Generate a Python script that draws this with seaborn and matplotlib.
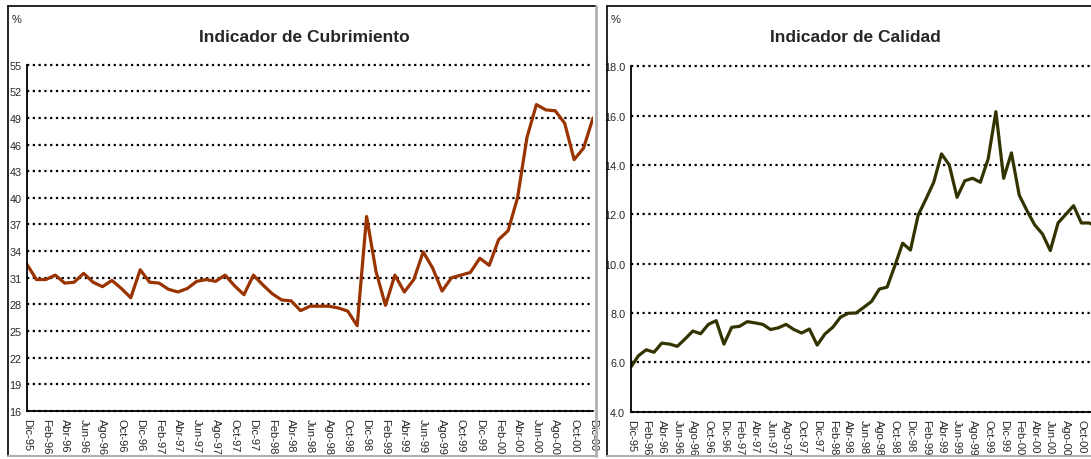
import numpy as np
import pandas as pd
import matplotlib.pyplot as plt
import seaborn as sns
from matplotlib.lines import Line2D

# etiquetas mensuales Dic-95 .. Dic-00
meses = ["Ene", "Feb", "Mar", "Abr", "May", "Jun", "Jul", "Ago", "Sep", "Oct", "Nov", "Dic"]
anios = [96, 97, 98, 99, 0]
fechas = ["Dic-95"] + [f"{m}-{a:02d}" for a in anios for m in meses]

# Indicador de Cubrimiento (%)
cubrimiento = [32.5, 30.8, 30.8, 31.3, 30.4, 30.5, 31.5, 30.5, 30.0, 30.7,
               29.8, 28.75, 31.9, 30.5, 30.4, 29.7, 29.4, 29.8, 30.6, 30.8,
               30.6, 31.3, 30.1, 29.1, 31.3, 30.2, 29.2, 28.5, 28.4, 27.3,
               27.8, 27.8, 27.8, 27.6, 27.25, 25.6, 37.9, 31.7, 27.9, 31.3,
               29.4, 30.8, 33.9, 32.1, 29.5, 31.0, 31.3, 31.6, 33.2, 32.4,
               35.3, 36.3, 40.0, 46.8, 50.5, 49.9, 49.8, 48.4, 44.3, 45.6,
               49.0]

# Indicador de Calidad (%)
calidad = [5.8, 6.27, 6.51, 6.41, 6.78, 6.74, 6.65, 6.95, 7.27, 7.16,
           7.54, 7.69, 6.74, 7.42, 7.46, 7.65, 7.6, 7.54, 7.33, 7.4,
           7.54, 7.33, 7.19, 7.35, 6.7, 7.15, 7.42, 7.83, 7.99, 8.0,
           8.23, 8.47, 8.97, 9.05, 9.92, 10.83, 10.55, 11.97, 12.62, 13.3,
           14.45, 14.0, 12.69, 13.36, 13.46, 13.3, 14.24, 16.16, 13.46, 14.49,
           12.78, 12.15, 11.57, 11.2, 10.53, 11.65, 12.0, 12.35, 11.65, 11.65,
           11.5]

cub_ticks = list(range(16, 56, 3))
cal_ticks = [4.0, 6.0, 8.0, 10.0, 12.0, 14.0, 16.0, 18.0]

df = pd.DataFrame({"fecha": fechas, "cubrimiento": cubrimiento, "calidad": calidad})
df["n"] = np.arange(len(df))

sns.set_style("white")
plt.rcParams["font.family"] = ["Liberation Sans Narrow", "Liberation Sans", "DejaVu Sans"]

W, H = 1091, 460
fig = plt.figure(figsize=(W / 100, H / 100), dpi=100)


def px(x0, y0, x1, y1):
    # pixel box (top-left origin) -> figure fraction
    return [x0 / W, 1 - y1 / H, (x1 - x0) / W, (y1 - y0) / H]


def panel_borders(x0, y0, x1, y1, edge_right="#b0b0b0", edge_bottom="#b0b0b0"):
    fx = lambda v: v / W
    fy = lambda v: 1 - v / H
    fig.add_artist(Line2D([fx(x0), fx(x0)], [fy(y0), fy(y1)], color="black", lw=1.2))
    fig.add_artist(Line2D([fx(x0), fx(x1)], [fy(y0), fy(y0)], color="black", lw=1.2))
    if x1 < W:
        fig.add_artist(Line2D([fx(x1), fx(x1)], [fy(y0), fy(y1)], color=edge_right, lw=2))
    fig.add_artist(Line2D([fx(x0), fx(x1)], [fy(y1), fy(y1)], color=edge_bottom, lw=1.5))


def draw_panel(ax, col, color, yticks, fmt, title, title_x, pct_x):
    sns.lineplot(data=df, x="n", y=col, ax=ax, color=color, linewidth=2.3)
    ax.set_xlim(0, 60)
    ax.set_ylim(yticks[0], yticks[-1])
    ax.set_yticks(yticks)
    ax.set_yticklabels([fmt.format(v) for v in yticks], fontsize=7.8)
    ax.set_xticks(df["n"])
    ax.set_xticklabels([f if i % 2 == 0 else "" for i, f in enumerate(df["fecha"])],
                       rotation=-90, fontsize=8, va="top", ha="center")
    ax.tick_params(axis="x", direction="inout", length=6, width=1, pad=2, color="black")
    ax.tick_params(axis="y", direction="out", length=3, width=1, pad=1, color="black")
    ax.grid(axis="y", color="black", linestyle=(0, (1, 1.6)), linewidth=1.6)
    ax.grid(axis="x", visible=False)
    for gl in ax.get_ygridlines():
        gl.set_clip_on(False)
    ax.set_xlabel("")
    ax.set_ylabel("")
    for s in ["top", "right"]:
        ax.spines[s].set_visible(False)
    for s in ["left", "bottom"]:
        ax.spines[s].set_color("black")
        ax.spines[s].set_linewidth(1.3)
    fig.text(title_x / W, 1 - 37 / H, title, ha="center", va="center",
             fontsize=12.5, fontweight="bold")
    fig.text(pct_x / W, 1 - 20 / H, "%", ha="left", va="center", fontsize=8)


ax1 = fig.add_axes(px(27, 65.6, 593, 412))
draw_panel(ax1, "cubrimiento", "#993300", cub_ticks, "{:.0f}",
           "Indicador de Cubrimiento", 304, 12)
panel_borders(8, 7, 596, 457)

ax2 = fig.add_axes(px(630.7, 67.3, 1096.9, 412.7))
draw_panel(ax2, "calidad", "#333300", cal_ticks, "{:.1f}",
           "Indicador de Calidad", 855, 611)
panel_borders(607, 7, 1200, 457)

fig.savefig("out.png", dpi=100)
